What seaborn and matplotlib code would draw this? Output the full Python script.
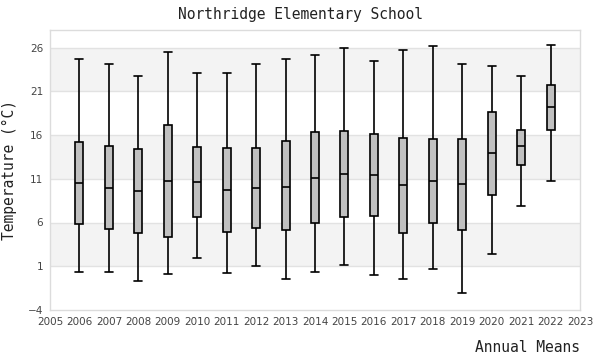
import numpy as np
import pandas as pd
import matplotlib
matplotlib.use("Agg")
import matplotlib.pyplot as plt
import seaborn as sns

# --- Datos ---
years = [2006, 2007, 2008, 2009, 2010, 2011, 2012, 2013, 2014,
         2015, 2016, 2017, 2018, 2019, 2020, 2021, 2022]
t_min = [0.4, 0.3, -0.7, 0.1, 2.0, 0.2, 1.0, -0.4, 0.4,
         1.1, 0.0, -0.5, 0.7, -2.1, 2.4, 7.9, 10.7]
t_q1 = [5.8, 5.3, 4.8, 4.4, 6.6, 4.9, 5.4, 5.1, 5.9,
        6.6, 6.7, 4.8, 5.9, 5.1, 9.2, 12.6, 16.6]
t_med = [10.5, 10.0, 9.6, 10.8, 10.6, 9.7, 10.0, 10.1, 11.1,
         11.6, 11.4, 10.3, 10.8, 10.4, 13.9, 14.7, 19.2]
t_q3 = [15.2, 14.8, 14.4, 17.1, 14.6, 14.5, 14.5, 15.3, 16.3,
        16.5, 16.1, 15.7, 15.6, 15.6, 18.6, 16.6, 21.7]
t_max = [24.7, 24.1, 22.8, 25.5, 23.1, 23.1, 24.1, 24.7, 25.1,
         26.0, 24.5, 25.7, 26.2, 24.1, 23.9, 22.7, 26.3]
y_ticks = [-4, 1, 6, 11, 16, 21, 26]
x_ticks = list(range(2005, 2024))

# 5 puntos por anio -> cuartiles exactos (q1 y q3 caen en el 2do y 4to valor)
rows = []
for i, yr in enumerate(years):
    for v in (t_min[i], t_q1[i], t_med[i], t_q3[i], t_max[i]):
        rows.append({'year': yr, 'temp': v})
df = pd.DataFrame(rows)

# --- Figura ---
sns.set_style("white")
mono = 'DejaVu Sans Mono'
box_w = 0.27
fig = plt.figure(figsize=(6, 3.6), dpi=100)
ax = fig.add_axes([50/600, 1 - 310/360, 530/600, 280/360])

# bandas alternas
for lo in (1, 11, 21):
    ax.axhspan(lo, lo + 5, color='#f3f3f3', zorder=0, lw=0)
for t in y_ticks[1:]:
    ax.axhline(t, color='#e2e2e2', lw=1, zorder=0.5)

sns.boxplot(data=df, x='year', y='temp', native_scale=True, whis=np.inf,
            width=box_w, color='#c0c0c0', saturation=1, linecolor='black',
            linewidth=1.2, ax=ax, zorder=2)

# caps tan anchos como la caja
for ln in ax.lines:
    xd, yd = np.asarray(ln.get_xdata(), float), np.asarray(ln.get_ydata(), float)
    if len(xd) == 2 and yd[0] == yd[1] and 0 < abs(xd[1] - xd[0]) < box_w * 0.95:
        c = xd.mean()
        ln.set_xdata([c - box_w / 2, c + box_w / 2])

ax.set_xlim(2005, 2023)
ax.set_ylim(-4, 28)
ax.set_xticks(x_ticks)
ax.set_yticks(y_ticks)
ax.tick_params(axis='both', length=0, labelsize=7.5, labelcolor='#444444', pad=5)
for s in ax.spines.values():
    s.set_color('#dcdcdc')
    s.set_linewidth(1)

ax.set_xlabel('')
ax.set_ylabel('Temperature (°C)', family=mono, fontsize=10.5, color='#222222', labelpad=8)
fig.text(0.5, 1 - 14/360, 'Northridge Elementary School', family=mono,
         fontsize=10.5, ha='center', va='center', color='#222222')
fig.text(580/600, 1 - 347/360, 'Annual Means', family=mono,
         fontsize=10.5, ha='right', va='center', color='#222222')

fig.savefig('out.png', dpi=100)
